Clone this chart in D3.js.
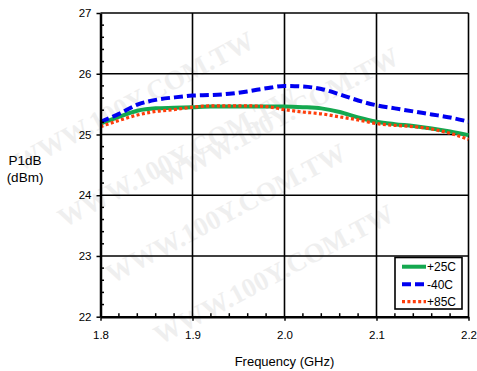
<!DOCTYPE html>
<html>
<head>
<meta charset="utf-8">
<script src="https://cdn.jsdelivr.net/npm/d3@7"></script>
<style>
  body { margin: 0; background: #fff; }
  svg { font-family: "Liberation Sans", Arial, sans-serif; }
</style>
</head>
<body>
<div class="chart"></div>
<script>
// Data
const freq = [1.80, 1.82, 1.84, 1.86, 1.88, 1.90, 1.92, 1.94, 1.96, 1.98, 2.00,
              2.02, 2.04, 2.06, 2.08, 2.10, 2.12, 2.14, 2.16, 2.18, 2.20];
const p25 = [25.18, 25.29, 25.39, 25.43, 25.44, 25.45, 25.46, 25.46, 25.46, 25.46, 25.46,
             25.45, 25.43, 25.37, 25.28, 25.21, 25.17, 25.14, 25.10, 25.05, 24.99];
const pm40 = [25.21, 25.34, 25.49, 25.57, 25.61, 25.64, 25.65, 25.67, 25.71, 25.76, 25.80,
              25.79, 25.75, 25.66, 25.56, 25.48, 25.43, 25.38, 25.33, 25.28, 25.21];
const p85 = [25.13, 25.23, 25.32, 25.38, 25.41, 25.45, 25.47, 25.47, 25.47, 25.46, 25.41,
             25.37, 25.34, 25.29, 25.24, 25.18, 25.15, 25.13, 25.09, 25.02, 24.92];
const xTicks = [1.8, 1.9, 2.0, 2.1, 2.2];
const yTicks = [22, 23, 24, 25, 26, 27];

const series = [
    {name: '+25C', values: p25, color: '#14a84f', width: 4, dash: null},
    {name: '-40C', values: pm40, color: '#0000f0', width: 4, dash: '9,4'},
    {name: '+85C', values: p85, color: '#ff3d0a', width: 3.2, dash: '3,2.4'}
];

// Layout
const W = 477, H = 371;
const plot = {left: 100.5, right: 468.5, top: 13, bottom: 316.7};

const svg = d3.select('.chart')
    .append('svg')
    .attr('width', W)
    .attr('height', H);

// Faint watermark
const wm = svg.append('g')
    .style('font-family', '"Liberation Serif", "DejaVu Serif", serif')
    .style('font-weight', 'bold')
    .style('font-size', '27px')
    .style('fill', '#efefef');
[[20, 172], [64, 228], [112, 284], [160, 345], [165, 188]].forEach(([x, y]) => {
    wm.append('text')
        .attr('transform', `translate(${x},${y}) rotate(-28)`)
        .text('WWW.100Y.COM.TW');
});

// Scales
const xScale = d3.scaleLinear().domain([1.8, 2.2]).range([plot.left, plot.right]);
const yScale = d3.scaleLinear().domain([22, 27]).range([plot.bottom, plot.top]);

// Grid
const grid = svg.append('g').attr('class', 'grid')
    .attr('stroke', '#000').attr('stroke-width', 1.6);
grid.selectAll('.vgrid')
    .data(xTicks.slice(1))
    .enter().append('line')
    .attr('x1', d => xScale(d)).attr('x2', d => xScale(d))
    .attr('y1', plot.top).attr('y2', plot.bottom);
grid.selectAll('.hgrid')
    .data(yTicks.slice(1))
    .enter().append('line')
    .attr('x1', plot.left).attr('x2', plot.right)
    .attr('y1', d => yScale(d)).attr('y2', d => yScale(d));

// Curves
const line = d3.line()
    .x((d, i) => xScale(freq[i]))
    .y(d => yScale(d))
    .curve(d3.curveMonotoneX);

svg.append('g').attr('class', 'curves')
    .selectAll('path')
    .data(series)
    .enter().append('path')
    .attr('d', d => line(d.values))
    .attr('fill', 'none')
    .attr('stroke', d => d.color)
    .attr('stroke-width', d => d.width)
    .attr('stroke-dasharray', d => d.dash);

// Axes
const xAxis = d3.axisBottom(xScale)
    .tickValues(xTicks)
    .tickFormat(d3.format('.1f'))
    .tickSizeInner(4)
    .tickSizeOuter(0)
    .tickPadding(10);

const yAxis = d3.axisLeft(yScale)
    .tickValues(yTicks)
    .tickFormat(d3.format('d'))
    .tickSizeInner(4)
    .tickSizeOuter(0)
    .tickPadding(5);

const xAxisDraw = svg.append('g')
    .attr('class', 'x axis')
    .attr('transform', `translate(0, ${plot.bottom})`)
    .call(xAxis);

const yAxisDraw = svg.append('g')
    .attr('class', 'y axis')
    .attr('transform', `translate(${plot.left}, 0)`)
    .call(yAxis);

[xAxisDraw, yAxisDraw].forEach(ax => {
    ax.select('.domain').attr('stroke', '#000').attr('stroke-width', 2.5);
    ax.selectAll('.tick line').attr('stroke', '#000').attr('stroke-width', 1.5);
    ax.selectAll('.tick text')
        .style('font-family', '"Liberation Sans", Arial, sans-serif')
        .style('font-size', '11.5px')
        .attr('fill', '#000');
});

// Minor ticks (inside)
const minorX = d3.range(1.8, 2.2, 0.02).filter((d, i) => i % 5 !== 0);
svg.append('g').selectAll('line')
    .data(minorX)
    .enter().append('line')
    .attr('x1', d => xScale(d)).attr('x2', d => xScale(d))
    .attr('y1', plot.bottom).attr('y2', plot.bottom - 3.5)
    .attr('stroke', '#000').attr('stroke-width', 1.5);

const minorY = d3.range(22, 27, 0.2).filter((d, i) => i % 5 !== 0);
svg.append('g').selectAll('line')
    .data(minorY)
    .enter().append('line')
    .attr('x1', plot.left).attr('x2', plot.left + 3.5)
    .attr('y1', d => yScale(d)).attr('y2', d => yScale(d))
    .attr('stroke', '#000').attr('stroke-width', 1.5);

// Axis titles
svg.append('text')
    .attr('x', xScale(2.0))
    .attr('y', 366)
    .attr('text-anchor', 'middle')
    .style('font-size', '13px')
    .text('Frequency (GHz)');

const yTitle = svg.append('text')
    .attr('text-anchor', 'middle')
    .style('font-size', '13.5px');
yTitle.append('tspan').attr('x', 25).attr('y', 165).text('P1dB');
yTitle.append('tspan').attr('x', 25).attr('y', 182).text('(dBm)');

// Legend
const legend = svg.append('g')
    .attr('class', 'legend')
    .attr('transform', 'translate(395, 257.5)');

legend.append('rect')
    .attr('width', 67)
    .attr('height', 51.5)
    .attr('fill', '#fff')
    .attr('stroke', '#000')
    .attr('stroke-width', 1.6);

const item = legend.selectAll('.item')
    .data(series)
    .enter().append('g')
    .attr('class', 'item')
    .attr('transform', (d, i) => `translate(0, ${9.2 + i * 17.5})`);

item.append('line')
    .attr('x1', 7).attr('x2', 31)
    .attr('stroke', d => d.color)
    .attr('stroke-width', d => d.width)
    .attr('stroke-dasharray', d => d.dash);

item.append('text')
    .attr('x', 32)
    .attr('y', 4.3)
    .style('font-size', '12px')
    .text(d => d.name);
</script>
</body>
</html>
